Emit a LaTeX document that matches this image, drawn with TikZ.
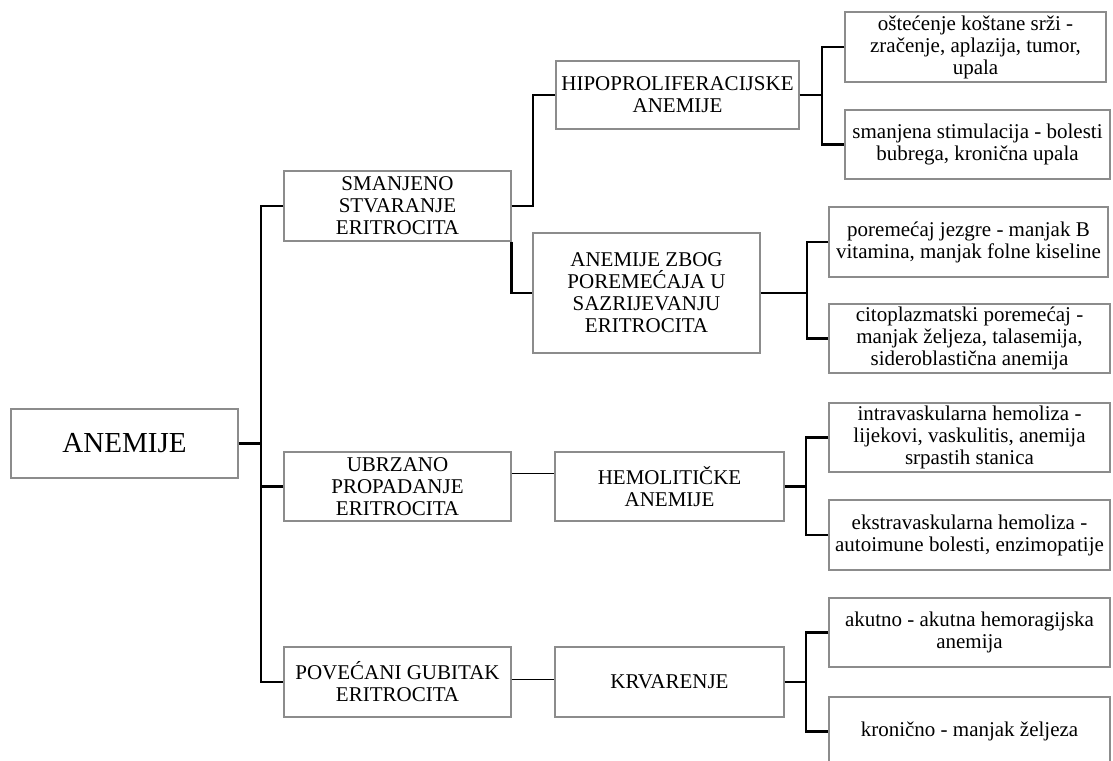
\documentclass[tikz,border=0pt]{standalone}
\usepackage{fontspec}
\setmainfont{Liberation Serif}
\definecolor{boxgray}{RGB}{140,140,140}
\begin{document}
\begin{tikzpicture}[x=1pt,y=-1pt,
  box/.style={draw=boxgray, line width=1.1pt, fill=white, inner sep=0pt, align=center,
    font=\fontsize{21}{22}\selectfont},
  conn/.style={line width=2.6pt, line join=miter},
  thinconn/.style={line width=1pt}]
\useasboundingbox (0,0) rectangle (1113,760);
% level 0
\node[box, minimum width=227pt, minimum height=69pt, font=\fontsize{29}{31}\selectfont] (anemije) at (124.5,443.5) {ANEMIJE};
% level 1
\node[box, minimum width=227pt, minimum height=70pt] (smanjeno) at (397.5,206) {SMANJENO\\STVARANJE\\ERITROCITA};
\node[box, minimum width=227pt, minimum height=69pt] (ubrzano) at (397.5,486.5) {UBRZANO\\PROPADANJE\\ERITROCITA};
\node[box, minimum width=227pt, minimum height=70pt] (povecani) at (397.5,682) {POVEĆANI GUBITAK\\ERITROCITA};
% level 2
\node[box, minimum width=243pt, minimum height=68pt] (hipo) at (677.5,95) {HIPOPROLIFERACIJSKE\\ANEMIJE};
\node[box, minimum width=227pt, minimum height=120pt] (anzbog) at (646.5,293) {ANEMIJE ZBOG\\POREMEĆAJA U\\SAZRIJEVANJU\\ERITROCITA};
\node[box, minimum width=229pt, minimum height=69pt] (hemol) at (669.5,486.5) {HEMOLITIČKE\\ANEMIJE};
\node[box, minimum width=229pt, minimum height=70pt] (krv) at (669.5,682) {KRVARENJE};
% level 3
\node[box, minimum width=261pt, minimum height=70pt] (ostec) at (975.5,47) {oštećenje koštane srži -\\zračenje, aplazija, tumor,\\upala};
\node[box, minimum width=265pt, minimum height=69pt] (smanj) at (977.5,144.5) {smanjena stimulacija - bolesti\\bubrega, kronična upala};
\node[box, minimum width=279pt, minimum height=70pt] (porem) at (968.5,242) {poremećaj jezgre - manjak B\\vitamina, manjak folne kiseline};
\node[box, minimum width=281pt, minimum height=69pt] (citop) at (969.5,338.5) {citoplazmatski poremećaj -\\manjak željeza, talasemija,\\sideroblastična anemija};
\node[box, minimum width=281pt, minimum height=69pt] (intra) at (969.5,437.5) {intravaskularna hemoliza -\\lijekovi, vaskulitis, anemija\\srpastih stanica};
\node[box, minimum width=281pt, minimum height=70pt] (ekstra) at (969.5,535) {ekstravaskularna hemoliza -\\autoimune bolesti, enzimopatije};
\node[box, minimum width=281pt, minimum height=69pt] (akut) at (969.5,632.5) {akutno - akutna hemoragijska\\anemija};
\node[box, minimum width=281pt, minimum height=69pt] (kron) at (969.5,731.5) {kronično - manjak željeza};
% bracket coordinates
\coordinate (tx) at (261,0);
\coordinate (hx) at (533,0);
\coordinate (bxa) at (822,0);
\coordinate (bxb) at (807,0);
\coordinate (bxc) at (806,0);
% trunk
\draw[conn] (anemije.east) -- (anemije.east -| tx);
\draw[conn] (smanjeno.west) -- (smanjeno.west -| tx) -- (povecani.west -| tx) -- (povecani.west);
\draw[conn] (ubrzano.west) -- (ubrzano.west -| tx);
% smanjeno branches
\draw[conn] (smanjeno.east) -- (smanjeno.east -| hx) -- (hipo.west -| hx) -- (hipo.west);
\draw[conn] (smanjeno.south east) -- (smanjeno.south east |- anzbog.west) -- (anzbog.west);
% thin links
\draw[thinconn] ([yshift=13.5pt]ubrzano.east) -- ([yshift=13.5pt]ubrzano.east -| hemol.west);
\draw[thinconn] ([yshift=3pt]povecani.east) -- ([yshift=3pt]povecani.east -| krv.west);
% right brackets
\draw[conn] (hipo.east) -- (hipo.east -| bxa);
\draw[conn] (ostec.west) -- (ostec.west -| bxa) -- (smanj.west -| bxa) -- (smanj.west);
\draw[conn] (anzbog.east) -- (anzbog.east -| bxb);
\draw[conn] (porem.west) -- (porem.west -| bxb) -- (citop.west -| bxb) -- (citop.west);
\draw[conn] (hemol.east) -- (hemol.east -| bxc);
\draw[conn] (intra.west) -- (intra.west -| bxc) -- (ekstra.west -| bxc) -- (ekstra.west);
\draw[conn] (krv.east) -- (krv.east -| bxc);
\draw[conn] (akut.west) -- (akut.west -| bxc) -- (kron.west -| bxc) -- (kron.west);
\end{tikzpicture}
\end{document}
